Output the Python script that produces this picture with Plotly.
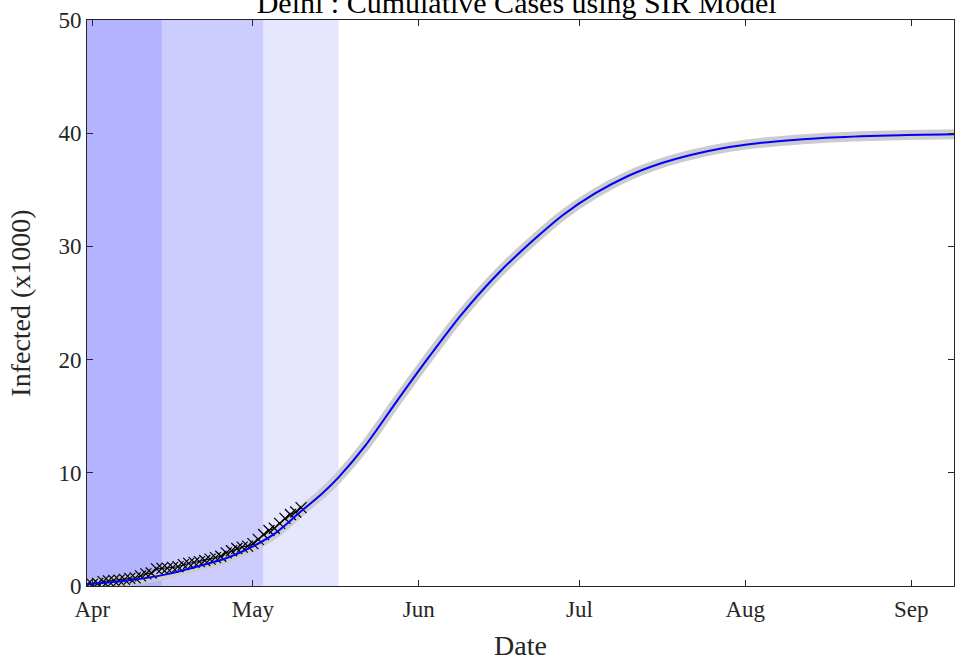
import pandas as pd
import plotly.graph_objects as go

# observed cumulative cases, Delhi (x1000), daily from 31 Mar
obs_start = "2020-03-31"
obs_values = [0.12, 0.15, 0.22, 0.39, 0.45, 0.50, 0.52, 0.58, 0.67, 0.72,
              0.90, 1.07, 1.15, 1.51, 1.56, 1.58, 1.64, 1.71, 1.89, 2.00,
              2.08, 2.16, 2.25, 2.38, 2.51, 2.63, 2.92, 3.11, 3.31, 3.44,
              3.52, 3.74, 4.12, 4.55, 4.90, 5.10, 5.53, 5.98, 6.32, 6.54,
              6.92]

# SIR model fit (x1000)
model_dates = ["2020-03-31", "2020-04-08", "2020-04-15", "2020-04-22", "2020-04-26",
               "2020-05-01", "2020-05-05", "2020-05-10", "2020-05-14", "2020-05-17",
               "2020-05-22", "2020-05-28", "2020-06-03", "2020-06-09", "2020-06-16",
               "2020-06-23", "2020-06-28", "2020-07-04", "2020-07-10", "2020-07-16",
               "2020-07-22", "2020-07-28", "2020-08-03", "2020-08-10", "2020-08-16",
               "2020-08-28", "2020-09-09"]
model_values = [0.15, 0.5, 1.05, 1.9, 2.45,
                3.5, 4.6, 6.6, 8.2, 9.6,
                12.4, 16.4, 20.3, 24.0, 27.7,
                30.8, 32.8, 34.7, 36.2, 37.3,
                38.1, 38.7, 39.1, 39.4, 39.6,
                39.8, 39.9]

# lockdown phases
phase_starts = ["2020-03-25", "2020-04-14", "2020-05-03"]
phase_ends = ["2020-04-14", "2020-05-03", "2020-05-17"]
phase_colors = ["rgb(179,179,255)", "rgb(204,204,255)", "rgb(230,230,255)"]

obs_dates = pd.date_range(obs_start, periods=len(obs_values), freq="D")

FONT = "Liberation Serif"
AXIS = "#262626"

fig = go.Figure()

for x0, x1, c in zip(phase_starts, phase_ends, phase_colors):
    fig.add_vrect(x0=x0, x1=x1, fillcolor=c, opacity=1, line_width=0, layer="below")

fig.add_trace(go.Scatter(x=model_dates, y=model_values, mode="lines",
                         line=dict(color="rgb(204,204,204)", width=10, shape="spline", smoothing=0.8),
                         hoverinfo="skip", showlegend=False))
fig.add_trace(go.Scatter(x=obs_dates, y=obs_values, mode="lines+markers",
                         line=dict(color="black", width=1),
                         marker=dict(symbol="x-thin", size=11, line=dict(color="black", width=1.2)),
                         showlegend=False))
fig.add_trace(go.Scatter(x=model_dates, y=model_values, mode="lines",
                         line=dict(color="rgb(0,0,255)", width=2, shape="spline", smoothing=0.8),
                         showlegend=False))

fig.update_layout(
    width=955, height=661,
    margin=dict(l=87, r=1, t=20, b=75, autoexpand=False),
    plot_bgcolor="white", paper_bgcolor="white",
    font=dict(family=FONT, size=23, color="#262626"),
    title=dict(text="Delhi : Cumulative Cases using SIR Model", x=0.541, xanchor="center",
               yref="container", y=0.9805, yanchor="bottom",
               font=dict(size=30, color="black"), automargin=False),
)
fig.update_xaxes(
    range=["2020-03-31", "2020-09-09"],
    tickvals=["2020-04-01", "2020-05-01", "2020-06-01", "2020-07-01", "2020-08-01", "2020-09-01"],
    ticktext=["Apr", "May", "Jun", "Jul", "Aug", "Sep"],
    ticks="inside", ticklen=6, tickcolor=AXIS, ticklabelstandoff=2,
    showline=True, linecolor=AXIS, linewidth=1, mirror="ticks",
    showgrid=False, zeroline=False, automargin=False,
    title=dict(text="Date", standoff=19),
)
fig.update_yaxes(
    range=[0, 50], tickvals=[0, 10, 20, 30, 40, 50],
    ticks="inside", ticklen=6, tickcolor=AXIS, ticklabelstandoff=0,
    showline=True, linecolor=AXIS, linewidth=1, mirror="ticks",
    showgrid=False, zeroline=False, automargin=False,
    title=dict(text="Infected (x1000)", standoff=19),
)

# drop the page's default body margin so the figure sits at the window corner
fig.write_html("out.html", config={"displayModeBar": False},
               post_script="document.body.style.margin='0';")
